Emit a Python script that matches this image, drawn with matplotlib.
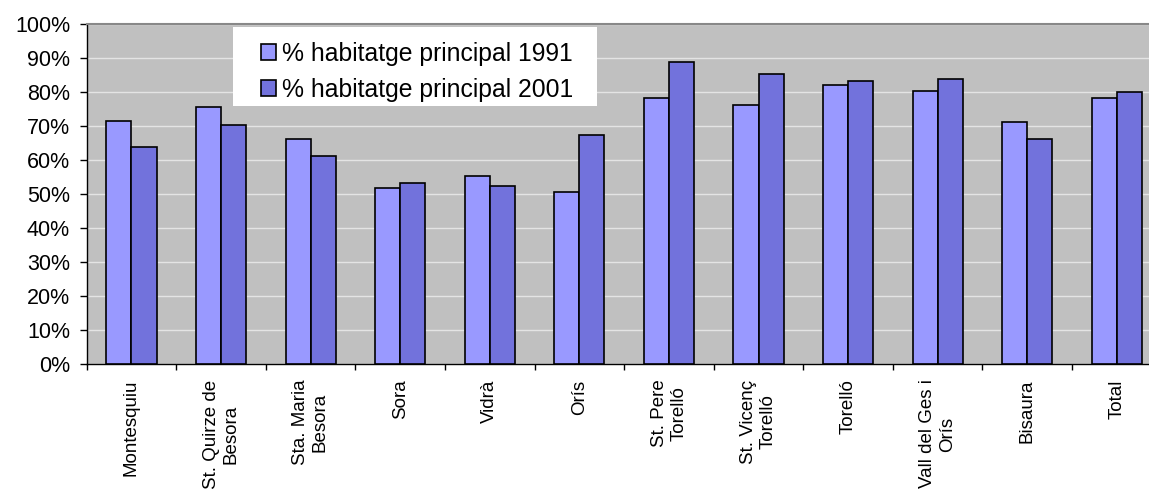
import matplotlib
matplotlib.use("Agg")
import matplotlib.pyplot as plt
import numpy as np
from matplotlib.patches import Rectangle
from matplotlib.ticker import FuncFormatter

plt.rcParams['font.family'] = ['Liberation Sans', 'DejaVu Sans']

categories = ["Montesquiu", "St. Quirze de\nBesora", "Sta. Maria\nBesora", "Sora", "Vidrà",
              "Orís", "St. Pere\nTorelló", "St. Vicenç\nTorelló", "Torelló",
              "Vall del Ges i\nOrís", "Bisaura", "Total"]
series_names = ["% habitatge principal 1991", "% habitatge principal 2001"]
hab_1991 = [71.4, 75.6, 66.3, 51.7, 55.2, 50.5, 78.4, 76.2, 82.2, 80.4, 71.1, 78.4]
hab_2001 = [63.8, 70.3, 61.1, 53.2, 52.5, 67.4, 88.9, 85.3, 83.2, 83.9, 66.1, 79.9]
yticks = list(range(0, 101, 10))

W, H = 1149, 490
fig = plt.figure(figsize=(W / 100, H / 100), dpi=100)
fig.patch.set_facecolor('white')

left_px, right_px, top_px, bottom_px = 86.7, 1161.6, 24.0, 364.3
ax = fig.add_axes([left_px / W, 1 - bottom_px / H, (right_px - left_px) / W, (bottom_px - top_px) / H])
ax.set_facecolor('#C0C0C0')

x = np.arange(len(categories))
bw = 0.28
b1 = ax.bar(x - bw / 2, hab_1991, width=bw, color='#9999FF', edgecolor='black', linewidth=1.2,
            label=series_names[0], zorder=3)
b2 = ax.bar(x + bw / 2, hab_2001, width=bw, color='#7272DC', edgecolor='black', linewidth=1.2,
            label=series_names[1], zorder=3)

ax.set_xlim(-0.5, len(categories) - 0.5)
ax.set_ylim(0, 100)
ax.set_yticks(yticks)
ax.yaxis.set_major_formatter(FuncFormatter(lambda v, p: f"{int(v)}%"))
ax.yaxis.grid(True, color='#E4E4E4', linewidth=1.0, zorder=1)
ax.set_axisbelow(True)

ax.set_xticks(x)
ax.set_xticklabels(categories, rotation=90, fontsize=13.5, va='top', ha='center',
                   multialignment='center')
ax.set_xticks(np.arange(-0.5, len(categories), 1.0), minor=True)
ax.tick_params(axis='x', which='major', length=0, pad=11)
ax.tick_params(axis='x', which='minor', length=4, width=1, color='black', direction='out')
ax.tick_params(axis='y', which='major', length=5, width=1, color='black', labelsize=15.5, pad=7)

for side in ['left', 'bottom']:
    ax.spines[side].set_color('black')
    ax.spines[side].set_linewidth(1.0)
ax.spines['top'].set_color('#888888')
ax.spines['top'].set_linewidth(1.5)
ax.spines['right'].set_visible(False)

# legend background box
fig.patches.append(Rectangle((233 / W, 1 - 106 / H), (597 - 233) / W, (106 - 27) / H,
                             transform=fig.transFigure, facecolor='white', edgecolor='none',
                             zorder=4))
fs = 17.8
leg = fig.legend(handles=[b1, b2], labels=series_names, loc='upper left',
                 bbox_to_anchor=(260.7 / W, 1 - 41.5 / H), bbox_transform=fig.transFigure,
                 frameon=False, borderpad=0, borderaxespad=0, fontsize=fs,
                 handlelength=0.6, handleheight=0.6, handletextpad=0.25, labelspacing=0.5)
leg.set_zorder(5)

fig.savefig('out.png', dpi=100)
